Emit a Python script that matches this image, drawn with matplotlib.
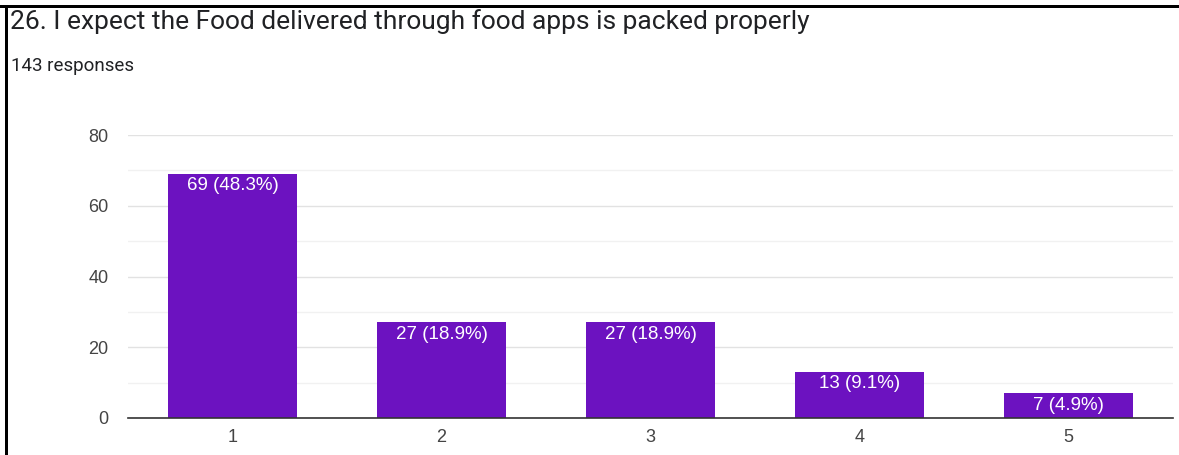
import matplotlib
matplotlib.use("Agg")
import matplotlib.pyplot as plt
from matplotlib.patches import Rectangle

categories = ["1", "2", "3", "4", "5"]
counts = [69, 27, 27, 13, 7]
labels = ["69 (48.3%)", "27 (18.9%)", "27 (18.9%)", "13 (9.1%)", "7 (4.9%)"]
y_ticks = [0, 20, 40, 60, 80]
title = "26. I expect the Food delivered through food apps is packed properly"
subtitle = "143 responses"

plt.rcParams['font.family'] = ['Roboto', 'DejaVu Sans']
chart_font = ['Liberation Sans', 'DejaVu Sans']

W, H = 1179, 455
fig = plt.figure(figsize=(W / 100, H / 100), dpi=100)

ax = fig.add_axes([128 / W, (H - 418) / H, (1173 - 128) / W, (418 - 135) / H])
x = list(range(len(categories)))
bars = ax.bar(x, counts, width=0.62, color="#6c12c0", zorder=3)
ax.set_xlim(-0.5, len(categories) - 0.5)
ax.set_ylim(0, 80)
ax.set_yticks(y_ticks)
ax.set_yticks([10, 30, 50, 70], minor=True)
ax.set_xticks(x)
ax.set_xticklabels(categories)
ax.grid(axis="y", which="major", color="#e2e2e2", linewidth=1, zorder=0)
ax.grid(axis="y", which="minor", color="#f1f1f1", linewidth=1, zorder=0)
for s in ["top", "right", "left"]:
    ax.spines[s].set_visible(False)
ax.spines["bottom"].set_color("#333333")
ax.spines["bottom"].set_linewidth(1.2)
ax.spines["bottom"].set_zorder(4)
ax.tick_params(axis="both", which="both", length=0, colors="#444444", labelsize=13)
ax.tick_params(axis="y", pad=14)
ax.tick_params(axis="x", pad=8)
for t in ax.get_xticklabels() + ax.get_yticklabels():
    t.set_family(chart_font)

for b, lab in zip(bars, labels):
    ax.annotate(lab, (b.get_x() + b.get_width() / 2, b.get_height()),
                xytext=(0, -2.5), textcoords="offset points",
                ha="center", va="top", color="white", fontsize=13.5,
                family=chart_font, zorder=5)

fig.text(10 / W, 1 - 29 / H, title, fontsize=19, color="#202124", va="baseline", ha="left")
fig.text(11 / W, 1 - 71 / H, subtitle, fontsize=13.5, color="#202124", va="baseline", ha="left")

# black frame lines (top and left)
fig.add_artist(Rectangle((0, 1 - 7.5 / H), 1, 3 / H, transform=fig.transFigure,
                         color="black", lw=0))
fig.add_artist(Rectangle((5 / W, 0), 3 / W, 1 - 4.5 / H, transform=fig.transFigure,
                         color="black", lw=0))

fig.savefig("out.png", dpi=100)
